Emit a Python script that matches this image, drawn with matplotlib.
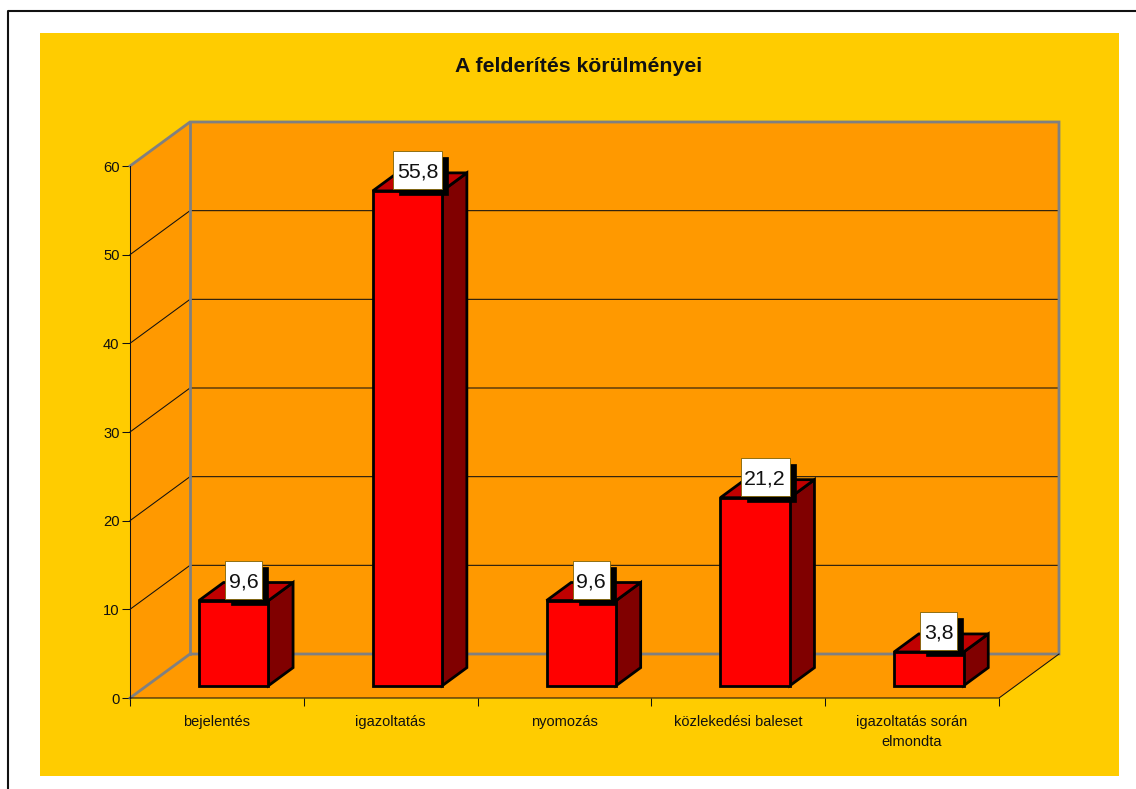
import matplotlib
matplotlib.use("Agg")
import matplotlib.pyplot as plt
from matplotlib.patches import Polygon, Rectangle
from matplotlib.transforms import offset_copy

categories = ["bejelentés", "igazoltatás", "nyomozás", "közlekedési baleset", "igazoltatás során\nelmondta"]
values = [9.6, 55.8, 9.6, 21.2, 3.8]
value_labels = ["9,6", "55,8", "9,6", "21,2", "3,8"]
y_ticks = [0, 10, 20, 30, 40, 50, 60]
title = "A felderítés körülményei"

W, H = 1136, 789
DPI = 100
plt.rcParams["font.family"] = ["Liberation Sans", "DejaVu Sans"]

fig = plt.figure(figsize=(W / DPI, H / DPI), dpi=DPI, facecolor="white")

# page frame and chart area, in figure pixels
fig.add_artist(Rectangle((40 / W, 1 - 776 / H), 1079 / W, 743 / H, transform=fig.transFigure,
                         facecolor="#FFCC00", edgecolor="none", zorder=-2))
fig.add_artist(plt.Line2D([8 / W, 8 / W, 1], [0, 1 - 11 / H, 1 - 11 / H], transform=fig.transFigure,
                          color="#111111", lw=1.5, zorder=-1))

ax = fig.add_axes([130 / W, 1 - 698 / H, 869 / W, 532 / H])
ax.patch.set_alpha(0)
ax.set_xlim(0, 5)
ax.set_ylim(0, 60)
for s in ax.spines.values():
    s.set_visible(False)

PX_X = 869 / 5    # pixels per category
PX_Y = 532 / 60   # pixels per value unit

# oblique depth of the 3-D box, in data units
DX = 60 / PX_X
DY = 44 / PX_Y
BAR_D0, BAR_D1 = 0.28, 0.69
BAR_W = 0.40
XMAX, YMAX = 5, 60


def proj(x, v, d):
    return (x + d * DX, v + d * DY)


def poly(points, **kw):
    ax.add_patch(Polygon([proj(*p) for p in points], closed=True, clip_on=False, **kw))


def line(points, color, lw, z):
    xs, ys = zip(*[proj(*p) for p in points])
    ax.plot(xs, ys, color=color, lw=lw, zorder=z, clip_on=False, solid_joinstyle="miter")


WALL = "#FF9900"
GRAY = "#808080"
poly([(0, 0, 0), (0, YMAX, 0), (0, YMAX, 1), (0, 0, 1)], facecolor=WALL, edgecolor="none", zorder=1)
poly([(0, 0, 1), (0, YMAX, 1), (XMAX, YMAX, 1), (XMAX, 0, 1)], facecolor=WALL, edgecolor="none", zorder=1)
poly([(0, 0, 0), (0, 0, 1), (XMAX, 0, 1), (XMAX, 0, 0)], facecolor=WALL, edgecolor="none", zorder=1)

for t in y_ticks[1:-1]:
    line([(0, t, 0), (0, t, 1), (XMAX, t, 1)], "#111111", 0.75, 2)

line([(0, 0, 0), (0, 0, 1), (XMAX, 0, 1), (XMAX, YMAX, 1), (0, YMAX, 1), (0, YMAX, 0)], GRAY, 2.0, 3)
line([(0, 0, 1), (0, YMAX, 1)], GRAY, 2.0, 3)
line([(0, 0, 0), (0, YMAX, 0)], "#111111", 0.75, 4)
line([(0, 0, 0), (XMAX, 0, 0), (XMAX, 0, 1)], "#111111", 0.75, 4)

# bars
for i, v in enumerate(values):
    x0 = i + 0.5 - BAR_W / 2
    x1 = i + 0.5 + BAR_W / 2
    z = 5 + i
    style = dict(edgecolor="black", linewidth=2.0, joinstyle="miter", zorder=z)
    poly([(x1, 0, BAR_D0), (x1, 0, BAR_D1), (x1, v, BAR_D1), (x1, v, BAR_D0)], facecolor="#800000", **style)
    poly([(x0, v, BAR_D0), (x0, v, BAR_D1), (x1, v, BAR_D1), (x1, v, BAR_D0)], facecolor="#C00000", **style)
    poly([(x0, 0, BAR_D0), (x0, v, BAR_D0), (x1, v, BAR_D0), (x1, 0, BAR_D0)], facecolor="#FF0000", **style)

    # value label: white box with a hard black shadow, anchored on the bar top
    ax_x, ax_y = proj(i + 0.5, v, BAR_D0)
    box_w = (37 if len(value_labels[i]) == 3 else 49) / PX_X
    box_h = 38 / PX_Y
    bx = ax_x + 10 / PX_X - box_w / 2
    by = ax_y + 1.5 / PX_Y
    shadow_tr = offset_copy(ax.transData, fig=fig, x=6, y=-6, units="dots")
    ax.add_patch(Rectangle((bx, by), box_w, box_h, facecolor="black", edgecolor="black", lw=0.5,
                           transform=shadow_tr, zorder=20, clip_on=False))
    ax.add_patch(Rectangle((bx, by), box_w, box_h, facecolor="white", edgecolor="#7F6000", lw=0.6,
                           zorder=21, clip_on=False))
    ax.text(bx + box_w / 2, by + box_h / 2, value_labels[i], ha="center", va="center_baseline",
            fontsize=15.4, color="#111111", zorder=22, clip_on=False)

ax.set_yticks(y_ticks)
ax.set_xticks(range(6))
ax.set_xticks([i + 0.5 for i in range(5)], minor=True)
ax.set_xticklabels([])
ax.set_xticklabels(categories, minor=True, fontsize=10.5, color="#111111", linespacing=1.55)
ax.tick_params(axis="x", which="major", length=6, width=0.75, color="#111111")
ax.tick_params(axis="x", which="minor", length=0, pad=12.5)
ax.tick_params(axis="y", length=6, width=0.75, color="#111111", labelsize=10.6, pad=1.5, labelcolor="#111111")

fig.text(579 / W, 1 - 66 / H, title, ha="center", va="center", fontsize=15.3, fontweight="bold", color="#111111")

fig.savefig("out.png", dpi=DPI, facecolor="white")
